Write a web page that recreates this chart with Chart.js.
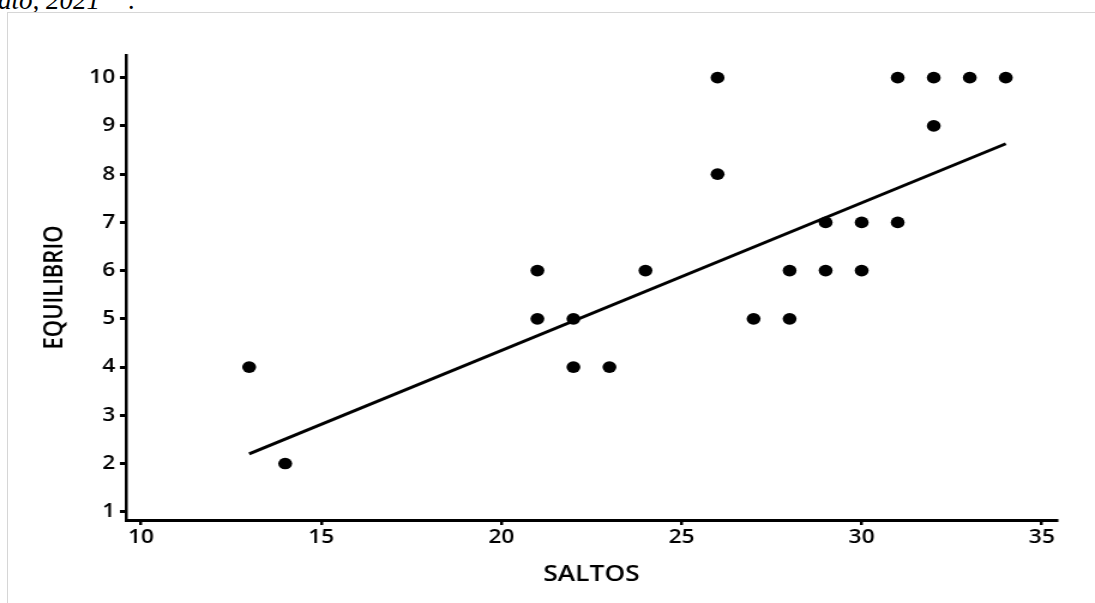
<!DOCTYPE html>
<html lang="es">
<head>
<meta charset="UTF-8">
<title>Saltos vs Equilibrio</title>
<script src="https://cdn.jsdelivr.net/npm/chart.js"></script>
<style>
  html, body { margin: 0; padding: 0; background: #fff; overflow: hidden; }
  body { width: 1095px; height: 603px; position: relative; }
  .caption {
    position: absolute; left: -2px; top: -14px;
    font: italic 27px/29px "Liberation Serif", "DejaVu Serif", serif;
    color: #000; white-space: nowrap;
  }
  .frame {
    position: absolute; left: 7px; top: 12px; width: 2000px; height: 2000px;
    border: 1px solid #d6d6d6;
  }
  .stretch {
    position: absolute; left: 0; top: 0;
    transform: scaleX(1.1993); transform-origin: 0 0;
  }
</style>
</head>
<body>
<div class="caption">ato, 2021&#8221;&nbsp;&nbsp;.</div>
<div class="frame"></div>
<div class="stretch">
  <canvas id="scatter" width="913" height="603"></canvas>
</div>

<script>
// values
const saltos     = [13, 14, 21, 21, 22, 22, 23, 24, 26, 26, 27, 28, 28, 29, 29, 30, 30, 31, 31, 32, 32, 33, 34];
const equilibrio = [4,  2,  6,  5,  5,  4,  4,  6,  10, 8,  5,  6,  5,  7,  6,  7,  6,  10, 7,  10, 9,  10, 10];
const fitX = [13, 34];
const fitY = [2.2, 8.63];
const xTicks = [10, 15, 20, 25, 30, 35];
const yTicks = [1, 2, 3, 4, 5, 6, 7, 8, 9, 10];

const points = saltos.map((x, i) => ({ x: x, y: equilibrio[i] }));
const fitLine = fitX.map((x, i) => ({ x: x, y: fitY[i] }));

const labelFont = { family: "'Open Sans', sans-serif", size: 19, weight: '600' };
const titleFont = { family: "'Open Sans', sans-serif", size: 22, weight: '600' };

const ctx = document.getElementById('scatter').getContext('2d');
new Chart(ctx, {
  type: 'scatter',
  data: {
    datasets: [
      {
        label: 'EQUILIBRIO',
        data: points,
        pointRadius: 5.8,
        pointHoverRadius: 5.8,
        pointBorderWidth: 0,
        backgroundColor: '#000',
        borderColor: '#000',
        order: 1
      },
      {
        type: 'line',
        label: 'ajuste',
        data: fitLine,
        borderColor: '#000',
        borderWidth: 3,
        pointRadius: 0,
        fill: false,
        order: 2
      }
    ]
  },
  options: {
    responsive: false,
    animation: false,
    devicePixelRatio: 1,
    layout: { padding: { left: 0, right: 31.7, top: 55, bottom: 0 } },
    plugins: { legend: { display: false }, tooltip: { enabled: false } },
    scales: {
      x: {
        type: 'linear',
        min: 9.58,
        max: 35.42,
        afterBuildTicks: s => { s.ticks = xTicks.map(v => ({ value: v })); },
        afterFit: s => { s.height = 83; },
        border: { display: true, color: '#000', width: 3 },
        grid: { drawOnChartArea: false, drawTicks: true, tickLength: 5, color: '#000', lineWidth: 2.5 },
        ticks: { color: '#000', font: labelFont, padding: 1, maxRotation: 0 },
        title: { display: true, text: 'SALTOS', color: '#000', font: titleFont, padding: { top: 0, bottom: 15 } }
      },
      y: {
        type: 'linear',
        min: 0.83,
        max: 10.47,
        afterBuildTicks: s => { s.ticks = yTicks.map(v => ({ value: v })); },
        afterFit: s => { s.width = 105; },
        border: { display: true, color: '#000', width: 2.5 },
        grid: { drawOnChartArea: false, drawTicks: true, tickLength: 5, color: '#000', lineWidth: 3 },
        ticks: { color: '#000', font: labelFont, padding: 4 },
        title: { display: true, text: 'EQUILIBRIO', color: '#000', font: titleFont, padding: { top: 33, bottom: 0 } }
      }
    }
  }
});
</script>
</body>
</html>
